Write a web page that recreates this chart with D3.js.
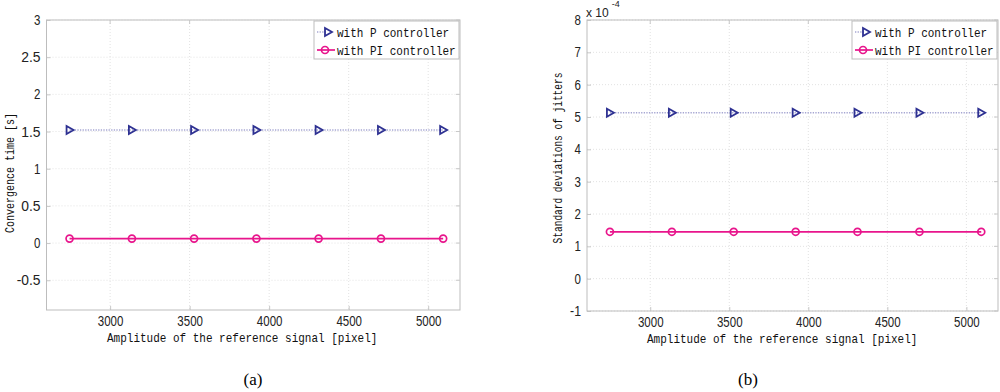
<!DOCTYPE html>
<html><head><meta charset="utf-8">
<script src="https://cdn.jsdelivr.net/npm/d3@7"></script>
<style>body{margin:0;background:#fff}svg{display:block}</style>
</head><body><svg id="c" width="1000" height="392"></svg>
<script>
const amplitudes = [2745, 3137, 3528, 3920, 4311, 4703, 5094];
const convP = [1.52, 1.52, 1.52, 1.52, 1.52, 1.52, 1.52];
const convPI = [0.06, 0.06, 0.06, 0.06, 0.06, 0.06, 0.06];
const jitP = [5.13, 5.13, 5.13, 5.13, 5.13, 5.13, 5.13];   // x 1e-4
const jitPI = [1.45, 1.45, 1.45, 1.45, 1.45, 1.45, 1.45];  // x 1e-4
const xTicks = [3000, 3500, 4000, 4500, 5000];
const yTicksA = [-0.5, 0, 0.5, 1, 1.5, 2, 2.5, 3];
const yTicksB = [-1, 0, 1, 2, 3, 4, 5, 6, 7, 8];
const seriesNames = ["with P controller", "with PI controller"];
const xLabel = "Amplitude of the reference signal [pixel]";
const yLabelA = "Convergence time [s]";
const yLabelB = "Standard deviations of jitters";
const captions = ["(a)", "(b)"];

const svg = d3.select("#c");
const monoFont = "'Liberation Mono', 'DejaVu Sans Mono', monospace";
const tickFont = "'Liberation Sans', Arial, sans-serif";
const colP = "#2e3192", colPline = "#a6a6d2", colPI = "#e8158c";
const SX = 0.846; // horizontal squeeze of mono text

function tickLen(s) {
  let w = 0;
  for (const ch of s) w += ch === "." ? 6.5 : ch === "-" ? 4.5 : 6.4;
  return w;
}

function squeezedText(g, x, y, str, anchor, rot, sx) {
  return g.append("text")
    .attr("transform", `translate(${x},${y})${rot ? " rotate(-90)" : ""} scale(${sx || SX},1)`)
    .attr("text-anchor", anchor).attr("font-family", monoFont).attr("font-size", 13)
    .attr("fill", "#111").text(str);
}

function panel(o) {
  const x = d3.scaleLinear().domain([2600, 5200]).range([o.x0, o.x1]);
  const y = d3.scaleLinear().domain(o.yDom).range([o.y1, o.y0]);
  const g = svg.append("g");
  // grid
  g.append("g").selectAll("line").data(xTicks).join("line")
    .attr("x1", d => x(d)).attr("x2", d => x(d)).attr("y1", o.y0).attr("y2", o.y1)
    .attr("stroke", "#e2e2e2").attr("stroke-dasharray", "1,2");
  g.append("g").selectAll("line").data(o.yTicks).join("line")
    .attr("y1", d => y(d)).attr("y2", d => y(d)).attr("x1", o.x0).attr("x2", o.x1)
    .attr("stroke", "#e2e2e2").attr("stroke-dasharray", "1,2");
  // axes
  const xa = g.append("g").attr("transform", `translate(0,${o.y1})`)
    .call(d3.axisBottom(x).tickValues(xTicks).tickSize(-4).tickPadding(6).tickFormat(d3.format("d")));
  const ya = g.append("g").attr("transform", `translate(${o.x0},0)`)
    .call(d3.axisLeft(y).tickValues(o.yTicks).tickSize(-4).tickPadding(6).tickFormat(d => String(d)));
  [xa, ya].forEach(a => {
    a.select(".domain").remove();
    a.selectAll(".tick line").attr("stroke", "#c8c8c8");
    a.selectAll("text").attr("font-family", tickFont).attr("font-size", 14).attr("fill", "#222")
      .attr("lengthAdjust", "spacingAndGlyphs")
      .attr("textLength", function() { return tickLen(this.textContent); });
  });
  g.append("rect").attr("x", o.x0).attr("y", o.y0).attr("width", o.x1 - o.x0).attr("height", o.y1 - o.y0)
    .attr("fill", "none").attr("stroke", "#bdbdbd").attr("stroke-width", 1);
  // right & top inner ticks
  g.append("g").selectAll("line").data(xTicks).join("line")
    .attr("x1", d => x(d)).attr("x2", d => x(d)).attr("y1", o.y0).attr("y2", o.y0 + 4).attr("stroke", "#c8c8c8");
  g.append("g").selectAll("line").data(o.yTicks).join("line")
    .attr("y1", d => y(d)).attr("y2", d => y(d)).attr("x1", o.x1).attr("x2", o.x1 - 4).attr("stroke", "#c8c8c8");

  // series
  const line = d3.line().x((d, i) => x(amplitudes[i])).y(d => y(d));
  g.append("path").datum(o.p).attr("d", line).attr("fill", "none")
    .attr("stroke", colPline).attr("stroke-width", 1.6).attr("stroke-dasharray", "1.3,1.3");
  g.append("path").datum(o.pi).attr("d", line).attr("fill", "none")
    .attr("stroke", colPI).attr("stroke-width", 1.7);
  const tri = "M-3,-4 L4,0 L-3,4 Z";
  g.append("g").selectAll("path").data(o.p).join("path")
    .attr("transform", (d, i) => `translate(${x(amplitudes[i])},${y(d)})`)
    .attr("d", tri).attr("fill", "none").attr("stroke", colP).attr("stroke-width", 1.8);
  g.append("g").selectAll("circle").data(o.pi).join("circle")
    .attr("cx", (d, i) => x(amplitudes[i])).attr("cy", d => y(d)).attr("r", 3.5)
    .attr("fill", "none").attr("stroke", colPI).attr("stroke-width", 1.7);

  // labels
  squeezedText(g, o.xlx, o.y1 + 32, xLabel, "start", false);
  squeezedText(g, o.ylx, o.ylc, o.yLabel, "middle", true, o.ylS);
  g.append("text").attr("x", o.capx).attr("y", 385).attr("text-anchor", "middle")
    .attr("font-family", "'Liberation Serif', 'Times New Roman', serif").attr("font-size", 17).attr("fill", "#000").text(o.caption);

  // legend
  const lx = o.x1 - 146, ly = o.y0 + 1;
  g.append("rect").attr("x", lx).attr("y", ly).attr("width", 145).attr("height", 38)
    .attr("fill", "#fff").attr("stroke", "#bdbdbd");
  const rows = [{n: seriesNames[0], c: colPline, m: "tri", dash: "1.3,1.3"}, {n: seriesNames[1], c: colPI, m: "circ", dash: null}];
  rows.forEach((r, i) => {
    const yy = ly + 11 + i * 18;
    g.append("line").attr("x1", lx + 3).attr("x2", lx + (r.m === "tri" ? 12 : 21)).attr("y1", yy).attr("y2", yy)
      .attr("stroke", r.c).attr("stroke-width", 1.7).attr("stroke-dasharray", r.dash);
    if (r.m === "tri") g.append("path").attr("transform", `translate(${lx + 14},${yy})`).attr("d", tri)
      .attr("fill", "none").attr("stroke", colP).attr("stroke-width", 1.8);
    else g.append("circle").attr("cx", lx + 11).attr("cy", yy).attr("r", 3.5)
      .attr("fill", "none").attr("stroke", colPI).attr("stroke-width", 1.7);
    squeezedText(g, lx + 23, yy + 5, r.n, "start", false);
  });
  return {x, y, g};
}

panel({x0: 46.5, x1: 460, y0: 20, y1: 310, yDom: [-0.9, 3], yTicks: yTicksA, p: convP, pi: convPI,
  yLabel: yLabelA, ylx: 14, ylc: 173, ylS: 0.77, caption: captions[0], capx: 253, xlx: 107});
const pb = panel({x0: 587, x1: 998, y0: 20, y1: 311, yDom: [-1, 8], yTicks: yTicksB, p: jitP, pi: jitPI,
  yLabel: yLabelB, ylx: 562, ylc: 158, ylS: 0.73, caption: captions[1], capx: 748, xlx: 647});
// exponent label
const ex = pb.g.append("text").attr("x", 586).attr("y", 17).attr("font-family", tickFont).attr("font-size", 12).attr("fill", "#222");
ex.append("tspan").text("x 10");
ex.append("tspan").attr("dx", 3).attr("dy", -10).attr("font-size", 9).text("-4");
</script></body></html>
